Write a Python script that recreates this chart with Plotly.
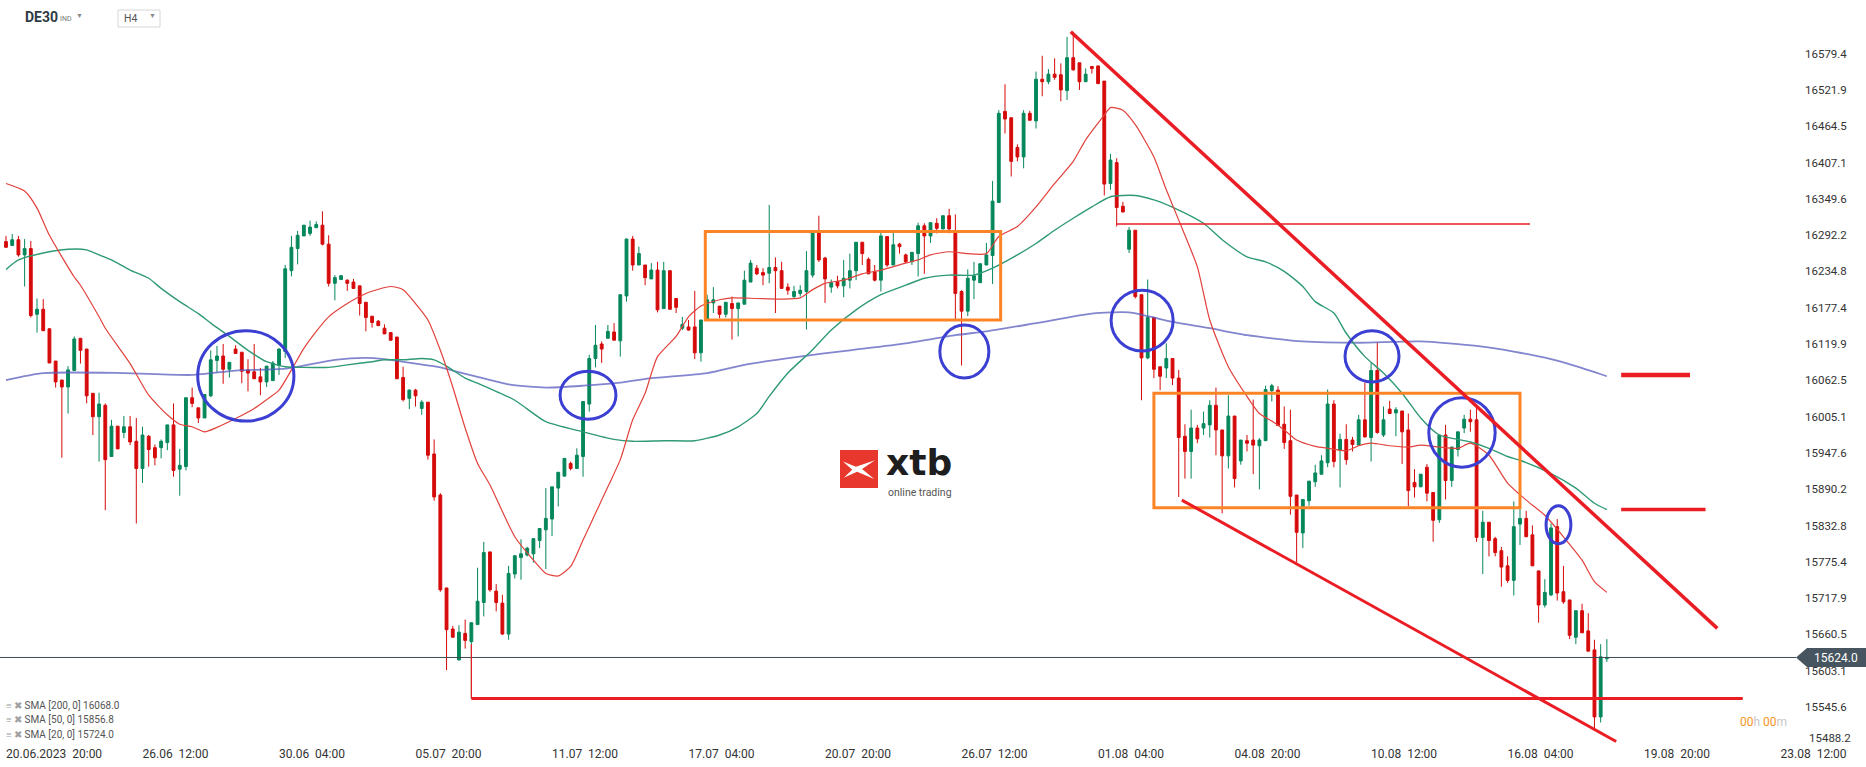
import plotly.graph_objects as go

# DE30 H4 candles, 20.06.2023 20:00 onwards
opens = [16282, 16276, 16285, 16261, 16271, 16167, 16175, 16144, 16093, 16063,
         16052, 16078, 16129, 16112, 16042, 16005, 16023, 15942, 15990, 15980,
         15989, 15966, 15923, 15974, 15956, 15956, 15964, 15992, 15922, 15926,
         16035, 16019, 16003, 16038, 16094, 16101, 16080, 16112, 16107, 16079,
         16076, 16068, 16060, 16062, 16086, 16108, 16236, 16271, 16291, 16295,
         16304, 16308, 16278, 16216, 16222, 16221, 16218, 16212, 16186, 16164,
         16156, 16145, 16138, 16131, 16067, 16034, 16047, 16018, 16028, 15946,
         15881, 15734, 15669, 15620, 15662, 15649, 15676, 15711, 15791, 15729,
         15710, 15661, 15756, 15782, 15786, 15788, 15809, 15826, 15843, 15892,
         15911, 15931, 15923, 15942, 16025, 16097, 16120, 16129, 16139, 16125,
         16196, 16286, 16245, 16245, 16223, 16237, 16176, 16236, 16192, 16145,
         16147, 16147, 16106, 16160, 16185, 16180, 16167, 16184, 16176, 16183,
         16218, 16240, 16233, 16232, 16241, 16236, 16210, 16195, 16200, 16203,
         16229, 16297, 16256, 16210, 16219, 16212, 16221, 16236, 16281, 16254,
         16234, 16221, 16290, 16245, 16278, 16261, 16250, 16263, 16307, 16291,
         16311, 16302, 16323, 16297, 16203, 16172, 16221, 16217, 16245, 16260,
         16344, 16488, 16478, 16431, 16416, 16485, 16473, 16539, 16535, 16547,
         16546, 16521, 16573, 16565, 16535, 16559, 16560, 16536, 16374, 16407,
         16338, 16270, 16300, 16198, 16098, 16162, 16084, 16082, 16097, 16066,
         15974, 15950, 15987, 15987, 15992, 16023, 15984, 15943, 16006, 15935,
         15967, 15968, 15959, 15967, 16046, 16047, 15993, 15967, 15881, 15821,
         15872, 15902, 15914, 15932, 16025, 15952, 15969, 15968, 15960, 16000,
         15972, 16078, 15976, 16017, 16011, 16014, 15984, 15901, 15894, 15925,
         15885, 15842, 15976, 15904, 15953, 15987, 16001, 16000, 15814, 15838,
         15812, 15793, 15769, 15746, 15835, 15844, 15818, 15761, 15707, 15723,
         15831, 15728, 15715, 15656, 15698, 15666, 15636, 15530, 15622]
highs = [16291, 16294, 16291, 16286, 16283, 16192, 16191, 16145, 16093, 16063,
         16085, 16132, 16129, 16112, 16042, 16043, 16026, 16000, 15990, 16006,
         16006, 16003, 15989, 15976, 15961, 15969, 15992, 16026, 15954, 16035,
         16051, 16019, 16040, 16110, 16117, 16120, 16091, 16118, 16107, 16096,
         16120, 16082, 16085, 16093, 16113, 16245, 16291, 16299, 16308, 16315,
         16314, 16330, 16292, 16229, 16229, 16222, 16223, 16212, 16186, 16164,
         16158, 16151, 16139, 16131, 16084, 16048, 16049, 16031, 16028, 15969,
         15884, 15734, 15674, 15675, 15684, 15679, 15766, 15807, 15791, 15740,
         15723, 15769, 15785, 15811, 15799, 15812, 15828, 15892, 15894, 15917,
         15939, 15934, 15955, 16029, 16103, 16150, 16124, 16150, 16153, 16198,
         16287, 16291, 16274, 16245, 16248, 16250, 16250, 16236, 16192, 16163,
         16158, 16204, 16158, 16198, 16210, 16180, 16186, 16195, 16185, 16236,
         16253, 16245, 16240, 16340, 16257, 16250, 16216, 16212, 16213, 16267,
         16300, 16323, 16258, 16222, 16228, 16253, 16263, 16281, 16281, 16257,
         16245, 16297, 16290, 16297, 16280, 16263, 16265, 16312, 16311, 16312,
         16319, 16323, 16334, 16325, 16205, 16238, 16250, 16247, 16280, 16378,
         16490, 16531, 16478, 16436, 16490, 16489, 16551, 16576, 16555, 16572,
         16564, 16606, 16614, 16565, 16556, 16560, 16560, 16536, 16421, 16414,
         16345, 16305, 16300, 16198, 16222, 16162, 16084, 16121, 16097, 16079,
         15993, 16016, 15992, 16013, 16031, 16051, 15984, 16039, 16006, 15968,
         15976, 16032, 15971, 16054, 16057, 16053, 16021, 16016, 15881, 15874,
         15903, 15929, 15944, 16048, 16031, 15978, 15993, 15973, 16008, 16059,
         16090, 16122, 16021, 16030, 16020, 16014, 16010, 15922, 15914, 15930,
         15885, 15976, 15992, 15957, 15981, 16008, 16016, 16021, 15856, 15838,
         15815, 15799, 15784, 15871, 15860, 15856, 15833, 15761, 15748, 15836,
         15843, 15769, 15715, 15698, 15709, 15694, 15652, 15645, 15653]
lows = [16273, 16275, 16258, 16211, 16162, 16138, 16141, 16090, 16051, 15940,
        16010, 16078, 16089, 16026, 15976, 15934, 15857, 15942, 15954, 15971,
        15960, 15836, 15900, 15926, 15928, 15939, 15952, 15910, 15880, 15920,
        16020, 15995, 16003, 16036, 16075, 16057, 16067, 16105, 16058, 16045,
        16065, 16039, 16052, 16062, 16071, 16098, 16227, 16246, 16291, 16291,
        16304, 16276, 16211, 16189, 16222, 16204, 16207, 16165, 16140, 16146,
        16149, 16136, 16125, 16065, 16029, 16017, 16021, 16008, 15937, 15872,
        15728, 15604, 15656, 15620, 15638, 15559, 15676, 15689, 15728, 15697,
        15660, 15652, 15749, 15747, 15784, 15774, 15797, 15764, 15816, 15863,
        15910, 15920, 15923, 15910, 16013, 16083, 16090, 16129, 16126, 16100,
        16187, 16236, 16245, 16213, 16223, 16170, 16176, 16174, 16169, 16142,
        16141, 16096, 16092, 16160, 16169, 16161, 16162, 16127, 16132, 16183,
        16218, 16229, 16213, 16216, 16169, 16208, 16198, 16192, 16195, 16143,
        16225, 16250, 16185, 16201, 16208, 16194, 16208, 16221, 16245, 16231,
        16219, 16203, 16242, 16245, 16263, 16248, 16245, 16227, 16231, 16280,
        16295, 16302, 16295, 16158, 16086, 16164, 16191, 16217, 16245, 16215,
        16344, 16453, 16385, 16409, 16398, 16474, 16461, 16512, 16531, 16538,
        16504, 16506, 16552, 16522, 16535, 16548, 16532, 16355, 16364, 16306,
        16328, 16264, 16192, 16031, 16096, 16066, 16047, 16066, 16055, 15878,
        15907, 15907, 15963, 15976, 15972, 15944, 15852, 15923, 15893, 15929,
        15950, 15914, 15890, 15967, 16029, 15991, 15954, 15850, 15774, 15797,
        15864, 15894, 15913, 15925, 15925, 15893, 15929, 15950, 15960, 15972,
        15934, 15978, 15973, 16010, 15974, 15930, 15863, 15877, 15894, 15871,
        15807, 15837, 15874, 15894, 15942, 15979, 15981, 15807, 15756, 15784,
        15784, 15736, 15742, 15722, 15802, 15815, 15769, 15679, 15703, 15721,
        15714, 15709, 15653, 15645, 15663, 15634, 15512, 15521, 15617]
closes = [16273, 16285, 16261, 16271, 16165, 16175, 16141, 16090, 16060, 16052,
          16079, 16128, 16110, 16038, 16005, 16025, 15937, 15990, 15954, 15989,
          15965, 15923, 15976, 15953, 15940, 15966, 15992, 15920, 15928, 16035,
          16026, 16003, 16040, 16095, 16101, 16080, 16091, 16105, 16077, 16074,
          16065, 16060, 16085, 16090, 16112, 16239, 16273, 16292, 16308, 16305,
          16309, 16278, 16216, 16225, 16228, 16216, 16208, 16184, 16162, 16154,
          16149, 16136, 16126, 16065, 16032, 16047, 16038, 16028, 15944, 15878,
          15731, 15668, 15656, 15664, 15651, 15679, 15713, 15790, 15731, 15711,
          15661, 15757, 15785, 15788, 15797, 15812, 15828, 15844, 15894, 15917,
          15939, 15923, 15944, 16029, 16097, 16118, 16112, 16140, 16126, 16198,
          16286, 16245, 16263, 16225, 16237, 16174, 16236, 16175, 16178, 16151,
          16142, 16106, 16158, 16190, 16190, 16167, 16186, 16176, 16185, 16221,
          16248, 16231, 16229, 16241, 16236, 16208, 16205, 16203, 16205, 16236,
          16297, 16253, 16223, 16217, 16212, 16224, 16236, 16281, 16263, 16231,
          16221, 16291, 16245, 16277, 16274, 16250, 16265, 16307, 16291, 16312,
          16303, 16323, 16302, 16200, 16172, 16224, 16228, 16247, 16261, 16346,
          16485, 16476, 16409, 16416, 16485, 16474, 16539, 16535, 16547, 16542,
          16522, 16573, 16554, 16535, 16547, 16556, 16532, 16373, 16411, 16336,
          16329, 16300, 16195, 16098, 16162, 16080, 16069, 16097, 16066, 15972,
          15950, 15987, 15970, 15994, 16023, 15984, 15943, 16006, 15907, 15968,
          15963, 15960, 15968, 16048, 16054, 15991, 15964, 15879, 15822, 15874,
          15903, 15916, 15935, 16025, 15934, 15969, 15937, 15961, 16000, 15973,
          16078, 15980, 16000, 16010, 16016, 15981, 15888, 15894, 15914, 15884,
          15841, 15976, 15904, 15957, 15981, 16001, 15997, 15814, 15838, 15809,
          15790, 15767, 15746, 15831, 15844, 15815, 15769, 15707, 15727, 15829,
          15726, 15712, 15659, 15698, 15663, 15634, 15530, 15625, 15624]

# moving averages (candle index, value)
sma200_idx = [0, 6, 19, 30, 37, 45, 53, 58, 61, 66, 70, 72, 76, 81, 87, 93, 99, 104,
              113, 119, 127, 136, 145, 153, 158, 166, 175, 181, 188, 194, 200, 209,
              218, 228, 237, 243, 249, 253, 258]
sma200_val = [16063, 16074, 16074, 16071, 16078, 16081, 16095, 16098, 16096, 16089,
              16083, 16078, 16068, 16056, 16051, 16054, 16059, 16066, 16074, 16087,
              16099, 16110, 16121, 16134, 16140, 16153, 16168, 16170, 16155, 16145,
              16134, 16124, 16122, 16124, 16117, 16108, 16096, 16085, 16069]
sma50_idx = [0, 2, 6, 10, 13, 15, 17, 20, 23, 25, 28, 31, 33, 36, 39, 42, 45, 48, 52,
             55, 59, 61, 64, 67, 69, 71, 74, 76, 82, 87, 93, 98, 101, 106, 111, 115,
             118, 121, 123, 126, 130, 133, 137, 141, 145, 148, 152, 156, 159, 163,
             166, 169, 172, 175, 178, 182, 185, 189, 193, 196, 200, 203, 206, 209,
             211, 214, 216, 219, 222, 225, 228, 231, 236, 239, 242, 244, 249, 253,
             256, 258]
sma50_val = [16238, 16253, 16264, 16270, 16269, 16261, 16253, 16237, 16224, 16208,
             16187, 16168, 16153, 16132, 16110, 16092, 16084, 16083, 16083, 16087,
             16092, 16095, 16095, 16097, 16095, 16085, 16066, 16058, 16031, 15997,
             15981, 15969, 15966, 15967, 15967, 15976, 15989, 16010, 16037, 16074,
             16111, 16142, 16174, 16198, 16213, 16224, 16229, 16229, 16240, 16261,
             16279, 16300, 16319, 16337, 16353, 16355, 16348, 16332, 16311, 16285,
             16258, 16250, 16235, 16211, 16187, 16169, 16137, 16100, 16074, 16042,
             16003, 15976, 15965, 15955, 15942, 15936, 15915, 15892, 15868, 15858]
sma20_idx = [0, 3, 5, 7, 11, 12, 15, 16, 20, 23, 26, 28, 30, 32, 34, 37, 40, 42, 44,
             46, 48, 50, 52, 55, 58, 62, 64, 66, 68, 70, 72, 74, 76, 78, 82, 85, 87,
             89, 91, 93, 95, 97, 99, 101, 103, 105, 108, 110, 112, 115, 117, 121,
             125, 128, 130, 132, 135, 138, 141, 145, 147, 149, 152, 155, 158, 160,
             163, 166, 169, 172, 174, 177, 178, 180, 182, 185, 187, 189, 192, 194,
             197, 200, 202, 204, 206, 208, 211, 213, 216, 218, 220, 223, 226, 228,
             231, 234, 236, 239, 242, 245, 248, 251, 254, 256, 258]
sma20_val = [16374, 16362, 16335, 16292, 16226, 16213, 16163, 16145, 16089, 16039,
             16008, 15993, 15989, 15981, 15988, 16002, 16018, 16032, 16047, 16079,
             16113, 16140, 16163, 16184, 16200, 16211, 16206, 16184, 16158, 16110,
             16052, 15987, 15931, 15897, 15815, 15778, 15757, 15753, 15768, 15810,
             15852, 15894, 15937, 16000, 16042, 16100, 16132, 16163, 16180, 16190,
             16193, 16192, 16191, 16193, 16206, 16216, 16221, 16231, 16237, 16248,
             16253, 16261, 16266, 16263, 16263, 16290, 16306, 16337, 16374, 16409,
             16443, 16482, 16494, 16490, 16467, 16416, 16364, 16316, 16242, 16158,
             16084, 16037, 16010, 15998, 15984, 15968, 15958, 15955, 15951, 15959,
             15963, 15959, 15957, 15960, 15957, 15955, 15963, 15944, 15900, 15873,
             15849, 15815, 15778, 15744, 15727]

x_tick_idx = [0, 22, 44, 66, 88, 110, 132, 154, 176, 198, 220, 242, 264, 286]
x_tick_text = ["20.06.2023  20:00", "26.06  12:00", "30.06  04:00", "05.07  20:00",
               "11.07  12:00", "17.07  04:00", "20.07  20:00", "26.07  12:00",
               "01.08  04:00", "04.08  20:00", "10.08  12:00", "16.08  04:00",
               "19.08  20:00", "23.08  12:00"]
y_tick_text = ["16579.4", "16521.9", "16464.5", "16407.1", "16349.6", "16292.2",
               "16234.8", "16177.4", "16119.9", "16062.5", "16005.1", "15947.6",
               "15890.2", "15832.8", "15775.4", "15717.9", "15660.5", "15603.1",
               "15545.6"]
bottom_label = "15488.2"
last_price = 15624.0
legend_rows = [("200", "16068.0"), ("50", "15856.8"), ("20", "15724.0")]

# analyst drawings, in (candle index, price)
orange_boxes = [(112.7, 16158, 160.3, 16298), (185.0, 15861, 244.0, 16042)]
blue_circles = [(30.9, 15998, 46.4, 16141), (89.3, 16001, 98.3, 16077),
                (150.5, 16066, 158.4, 16150), (178.1, 16109, 188.1, 16205),
                (215.8, 16060, 224.5, 16141), (229.3, 15925, 240.0, 16035),
                (248.2, 15804, 252.2, 15864)]
red_lines = [((171.6, 16614), (275.8, 15670), 3.5),
             ((189.5, 15873), (259.5, 15491), 3),
             ((75, 15559), (279.9, 15559), 3),
             ((75, 15559), (75, 15645), 1.2),
             ((178.9, 16310), (245.6, 16310), 1.5),
             ((260.3, 16071), (271.4, 16071), 4.5),
             ((260.3, 15858), (273.9, 15858), 3.5)]

W, H = 1866, 767
PL, PR, PT, PB = 0, 70, 0, 22
PW, PH = W - PL - PR, H - PT - PB


def px(x):
    return (x - PL) / PW


def py(y):
    return 1 - (y - PT) / PH


GREEN = "#05875a"
RED = "#d60a0a"
FONT = "Roboto"

idx = list(range(len(closes)))
fig = go.Figure()
fig.add_trace(go.Candlestick(x=idx, open=opens, high=highs, low=lows, close=closes,
                             increasing=dict(line=dict(color=GREEN, width=1), fillcolor=GREEN),
                             decreasing=dict(line=dict(color=RED, width=1), fillcolor=RED),
                             whiskerwidth=0, hoverinfo="skip", showlegend=False))
for xs, ys, color, width in [(sma200_idx, sma200_val, "rgba(90,92,190,0.75)", 1.8),
                             (sma50_idx, sma50_val, "#2f9a74", 1.4),
                             (sma20_idx, sma20_val, "#e2413c", 1.2)]:
    fig.add_trace(go.Scatter(x=xs, y=ys, mode="lines", showlegend=False, hoverinfo="skip",
                             line=dict(color=color, width=width, shape="spline", smoothing=0.6)))

shapes = []
shapes.append(dict(type="line", xref="paper", yref="y", x0=0, x1=1, y0=last_price, y1=last_price,
                   line=dict(color="#3d4b55", width=1)))
for x0, y0, x1, y1 in orange_boxes:
    shapes.append(dict(type="rect", xref="x", yref="y", x0=x0, x1=x1, y0=y0, y1=y1,
                       line=dict(color="#fb8426", width=3)))
for x0, y0, x1, y1 in blue_circles:
    shapes.append(dict(type="circle", xref="x", yref="y", x0=x0, x1=x1, y0=y0, y1=y1,
                       line=dict(color="#3b3fd2", width=3)))
for (x0, y0), (x1, y1), w in red_lines:
    shapes.append(dict(type="line", xref="x", yref="y", x0=x0, x1=x1, y0=y0, y1=y1,
                       line=dict(color="#ea1d25", width=w)))

# price tag on the axis
tag = "M {},{} L {},{} L {},{} L {},{} L {},{} Z".format(
    px(1796), py(657.5), px(1807), py(648), px(1866), py(648), px(1866), py(667), px(1807), py(667))
shapes.append(dict(type="path", xref="paper", yref="paper", path=tag,
                   fillcolor="#46555f", line=dict(width=0)))

# header box for the interval selector
shapes.append(dict(type="rect", xref="paper", yref="paper", x0=px(118), x1=px(160),
                   y0=py(27), y1=py(10), line=dict(color="#d6d6d6", width=1), fillcolor="white"))

# xtb logo
shapes.append(dict(type="rect", xref="paper", yref="paper", x0=px(840), x1=px(878),
                   y0=py(488), y1=py(450), line=dict(width=0), fillcolor="#e8372c"))
pts = [(0.08, 0.30), (0.42, 0.44), (0.92, 0.27), (0.58, 0.50), (0.90, 0.76),
       (0.45, 0.57), (0.10, 0.73), (0.32, 0.52)]
logo_path = "M " + " L ".join("{},{}".format(px(840 + 38 * u), py(450 + 38 * v)) for u, v in pts) + " Z"
shapes.append(dict(type="path", xref="paper", yref="paper", path=logo_path,
                   fillcolor="white", line=dict(width=0)))

annotations = []


def note(text, x, y, size, color, xanchor="left", yanchor="middle", bold=False, family=FONT):
    annotations.append(dict(text="<b>" + text + "</b>" if bold else text, x=px(x), y=py(y),
                            xref="paper", yref="paper", xanchor=xanchor, yanchor=yanchor,
                            showarrow=False, borderpad=0,
                            font=dict(family=family, size=size, color=color)))


note("DE30", 24, 17, 14, "#2d3b45", bold=True)
note("IND", 59, 19, 7, "#777777")
note("▼", 75, 16, 7, "#8a8a8a")
note("H4", 123, 19, 10.5, "#555555")
note("▼", 148, 16, 7, "#8a8a8a")
note("xtb", 885, 484, 36, "#1e1e1e", yanchor="bottom", bold=True, family="DejaVu Sans")
note("online trading", 887, 485, 10.5, "#555555", yanchor="top")
note("{:.1f}".format(last_price), 1836, 658, 12, "white", xanchor="center")
note(bottom_label, 1808, 738, 11.5, "#333333")
note("00<span style='color:#c8c8c8'>h</span> 00<span style='color:#c8c8c8'>m</span>",
     1739, 722, 12, "#f7941d")
for k, (period, value) in enumerate(legend_rows):
    note("<span style='color:#a0a0a0'>≡ ✖</span> SMA [{}, 0] {}".format(period, value),
         5, 705 + 14.5 * k, 10, "#555555")

fig.update_layout(width=W, height=H, margin=dict(l=PL, r=PR, t=PT, b=PB),
                  paper_bgcolor="white", plot_bgcolor="white", boxgap=0.35,
                  font=dict(family=FONT, color="#333333"), shapes=shapes,
                  annotations=annotations, hovermode=False)
fig.update_xaxes(range=[-0.967, 288.48], rangeslider_visible=False, showgrid=False,
                 zeroline=False, showline=False, ticks="", tickvals=x_tick_idx,
                 ticktext=x_tick_text, ticklabelposition="outside right",
                 tickfont=dict(size=12, color="#333333"))
fig.update_yaxes(range=[15485.5, 16664.3], side="right", showgrid=False, zeroline=False,
                 showline=False, ticks="", tickvals=[float(t) for t in y_tick_text],
                 ticktext=y_tick_text, ticklabelstandoff=8,
                 tickfont=dict(size=11.5, color="#333333"))

fig.write_html("out.html", config={"displayModeBar": False},
               post_script="document.body.style.margin='0';document.body.style.overflow='hidden';")
